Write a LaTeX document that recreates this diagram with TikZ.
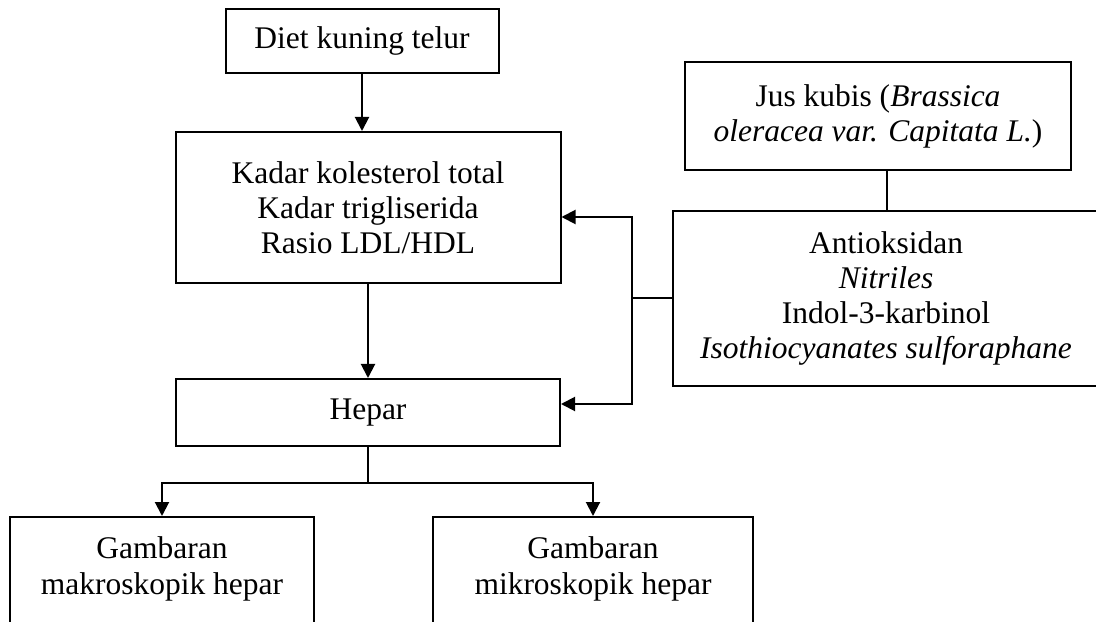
\documentclass[tikz,border=0pt]{standalone}
\usepackage{fontspec}
\setmainfont{Liberation Serif}
\usepackage{tikz}
\usetikzlibrary{calc,arrows.meta}

\begin{document}
\begin{tikzpicture}[
  line width=0.05cm,
  box/.style={draw, align=center, inner sep=0pt, font=\fontsize{22.4}{24.9}\selectfont},
  arr/.style={-{Triangle[length=0.35cm,width=0.35cm]}},
  lowbox/.style={box, anchor=north, text height=1.925cm, text depth=1.2cm}
]
\useasboundingbox (0,0) rectangle (27.4,15.525);

% Boxes
\node[box, minimum width=6.825cm, minimum height=1.6cm] (diet) at (9.05,14.5) {Diet kuning telur};
\node[box, minimum width=9.625cm, minimum height=3.775cm] (kadar) at (9.2,10.3375)
  {Kadar kolesterol total\\Kadar trigliserida\\Rasio LDL/HDL};
\node[box, minimum width=9.6cm, minimum height=1.675cm] (hepar) at (9.2,5.2125) {Hepar};
\node[box, minimum width=9.65cm, minimum height=2.7cm] (jus) at (21.95,12.625)
  {Jus kubis (\textit{Brassica}\\\textit{oleracea var. Capitata L.})};
\node[box, minimum width=10.65cm, minimum height=4.375cm] (anti) at (22.15,8.0625)
  {Antioksidan\\\textit{Nitriles}\\Indol-3-karbinol\\\textit{Isothiocyanates sulforaphane}};
\node[lowbox, minimum width=7.6cm] (makro) at (4.05,2.625) {Gambaran\\makroskopik hepar};
\node[lowbox, minimum width=8cm] (mikro) at (14.825,2.625) {Gambaran\\mikroskopik hepar};

% Arrows
\draw[arr] (diet.south) -- (diet.south |- kadar.north);
\draw[arr] (kadar.south) -- (hepar.north);
\draw ($(jus.south)+(0.225,0)$) coordinate (js) -- (js |- anti.north);
\draw (anti.west) -- ++(-1,0) coordinate (jn);
\draw[arr] (jn) |- ($(kadar.east)+(0,-0.2375)$);
\draw[arr] (jn) |- ($(hepar.east)+(0,0.2125)$);
\draw (hepar.south) -- ++(0,-0.9) coordinate (br);
\draw[arr] (br) -| (makro.north);
\draw[arr] (br) -| (mikro.north);
\end{tikzpicture}
\end{document}
